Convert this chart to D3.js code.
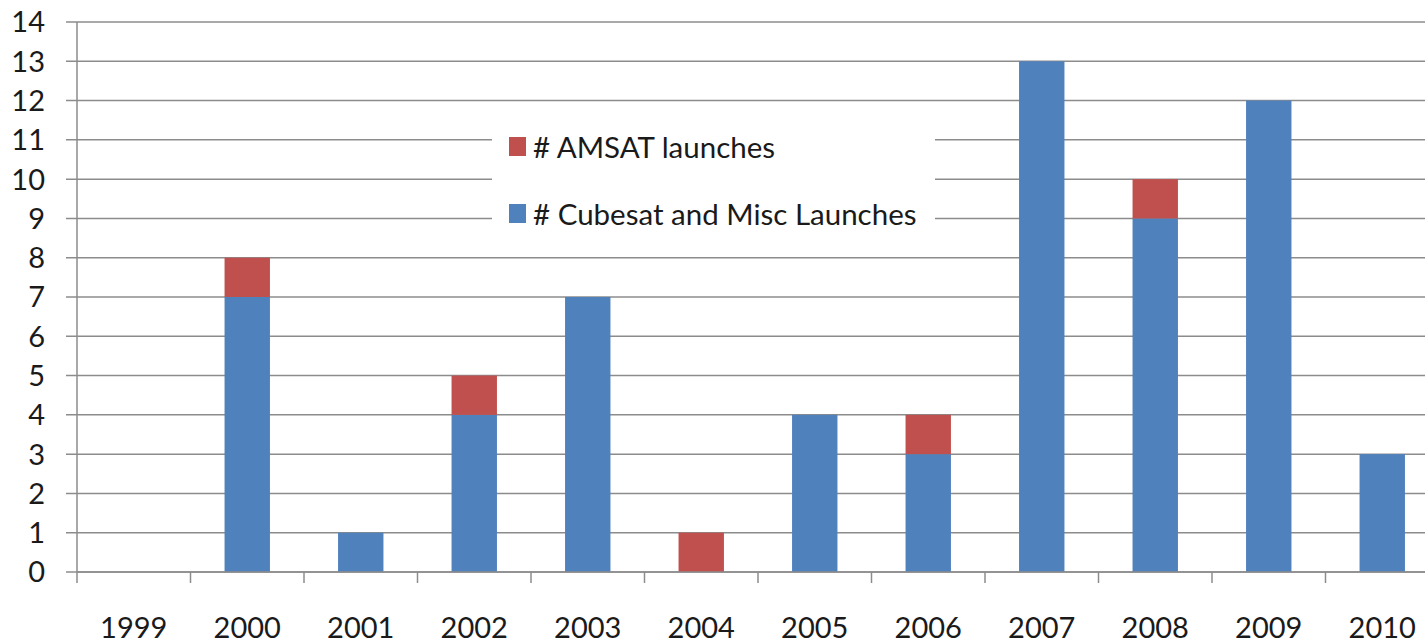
<!DOCTYPE html>
<html>
<head>
<meta charset="utf-8">
<script src="https://cdn.jsdelivr.net/npm/d3@7"></script>
<style>
  body { margin: 0; background: #fff; }
  svg { display: block; font-family: Lato, 'Open Sans', sans-serif; }
</style>
</head>
<body>
<div id="app"></div>
<script>
const years = ['1999','2000','2001','2002','2003','2004','2005','2006','2007','2008','2009','2010']
const cubesat = [0, 7, 1, 4, 7, 0, 4, 3, 13, 9, 12, 3]
const amsat = [0, 1, 0, 1, 0, 1, 0, 1, 0, 1, 0, 0]
const yTicks = d3.range(0, 15)
const seriesNames = ['# AMSAT launches', '# Cubesat and Misc Launches']
const seriesColors = ['#C0504D', '#4F81BD']

const W = 1425, H = 644
const plotLeft = 77, plotTop = 22, plotBottom = 572
const step = 113.5

const svg = d3.select('#app').append('svg').attr('width', W).attr('height', H)

const y = d3.scaleLinear().domain([0, 14]).range([plotBottom, plotTop])
// cells with no padding: used for boundaries and labels
const xCell = d3.scaleBand().domain(years).range([plotLeft, plotLeft + step * years.length])
const x = d3.scaleBand().domain(years).range(xCell.range()).paddingInner(0.6).paddingOuter(0.3)

// gridlines
svg.append('g').selectAll('line').data(yTicks).join('line')
  .attr('x1', 66).attr('x2', W)
  .attr('y1', d => y(d)).attr('y2', d => y(d))
  .attr('stroke', '#8c8c8c').attr('stroke-width', 1.5)

// y labels
svg.append('g').selectAll('text').data(yTicks).join('text')
  .attr('x', 45).attr('y', d => y(d))
  .attr('text-anchor', 'end').attr('dy', '0.36em')
  .attr('font-size', 29).attr('fill', '#1a1a1a')
  .text(d => d)

// bars
const rows = years.map((yr, i) => ({ year: yr, cube: cubesat[i], am: amsat[i] }))
const bars = svg.append('g').selectAll('g').data(rows).join('g')
bars.append('rect')
  .attr('x', d => x(d.year)).attr('width', x.bandwidth())
  .attr('y', d => y(d.cube)).attr('height', d => y(0) - y(d.cube))
  .attr('fill', seriesColors[1])
bars.append('rect')
  .attr('x', d => x(d.year)).attr('width', x.bandwidth())
  .attr('y', d => y(d.cube + d.am)).attr('height', d => y(d.cube) - y(d.cube + d.am))
  .attr('fill', seriesColors[0])

// axes lines
svg.append('line').attr('x1', plotLeft).attr('x2', plotLeft).attr('y1', plotTop).attr('y2', plotBottom + 11)
  .attr('stroke', '#8c8c8c').attr('stroke-width', 1.5)
svg.append('line').attr('x1', plotLeft).attr('x2', W).attr('y1', plotBottom).attr('y2', plotBottom)
  .attr('stroke', '#8c8c8c').attr('stroke-width', 1.5)
svg.append('g').selectAll('line').data(years.slice(1)).join('line')
  .attr('x1', d => xCell(d)).attr('x2', d => xCell(d))
  .attr('y1', plotBottom).attr('y2', plotBottom + 11)
  .attr('stroke', '#8c8c8c').attr('stroke-width', 1.5)

// x labels
svg.append('g').selectAll('text').data(years).join('text')
  .attr('x', d => xCell(d) + xCell.bandwidth() / 2).attr('y', 638)
  .attr('text-anchor', 'middle')
  .attr('font-size', 29).attr('fill', '#1a1a1a')
  .text(d => d)

// legend
const lg = svg.append('g')
lg.append('rect').attr('x', 492).attr('y', 115).attr('width', 443).attr('height', 120).attr('fill', '#fff')
const items = lg.selectAll('g').data(seriesNames).join('g')
  .attr('transform', (d, i) => `translate(509, ${137 + i * 67})`)
items.append('rect').attr('width', 17).attr('height', 19).attr('fill', (d, i) => seriesColors[i])
items.append('text').attr('x', 24).attr('y', 10).attr('dy', '0.36em')
  .attr('font-size', 29.5).attr('fill', '#1a1a1a')
  .text(d => d)
</script>
</body>
</html>
